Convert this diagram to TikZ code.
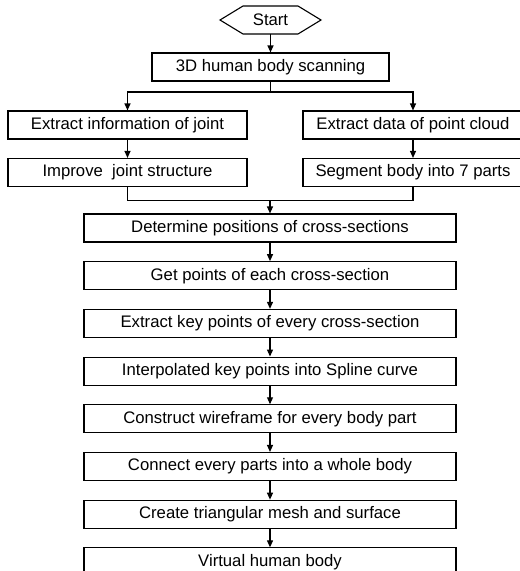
\documentclass[tikz,border=0pt]{standalone}
\usepackage{fontspec}
\setmainfont{Liberation Sans}
\usetikzlibrary{arrows.meta}

\def\boxHeight{28pt}
\def\scanWidth{237pt}
\def\jointWidth{239pt}
\def\cloudWidth{220pt}
\def\mainWidth{372pt}
\def\mainPitch{47.7}

\tikzset{
    stepbox/.style = {draw, line width = 1.1pt, minimum height = \boxHeight,
        inner sep = 0pt, font = \fontsize{16.7}{20}\selectfont},
    flow/.style = {line width = 1.1pt, -{Triangle[length = 7pt, width = 6pt]}},
}

\begin{document}
\begin{tikzpicture}[x = 1pt, y = -1pt]
            \useasboundingbox (0,0) rectangle (520,571);
            \clip (0,0) rectangle (520,571);
            % start terminal
            \draw [line width = 1.1pt]
            (220,20) -- (243,6) -- (298,6) -- (321,20)
            -- (298,34) -- (243,34) -- cycle
            ;
            \node [minimum height = \boxHeight, inner sep = 0pt,
                font = \fontsize{16.7}{20}\selectfont] (start) at (270.5,20) {Start};
            \node [stepbox, minimum width = \scanWidth] (scan) at (270.5,67) {3D human body scanning};
            % two branches
            \node [stepbox, minimum width = \jointWidth] (joint) at (127.5,125) {Extract information of joint};
            \node [stepbox, minimum width = \jointWidth] (improve) at (127.5,172.5) {Improve\ \ joint structure};
            \node [stepbox, minimum width = \cloudWidth] (cloud) at (413,125) {Extract data of point cloud};
            \node [stepbox, minimum width = \cloudWidth] (segment) at (413,172.5) {Segment body into 7 parts};
            \coordinate (split) at (270.5,92);
            \coordinate (merge) at (270,200.5);
            % main column
            \foreach \stepText [count = \i] in {
                Determine positions of cross-sections,
                Get points of each cross-section,
                Extract key points of every cross-section,
                Interpolated key points into Spline curve,
                Construct wireframe for every body part,
                Connect every parts into a whole body,
                Create triangular mesh and surface,
                Virtual human body}
            {
                \node [stepbox, minimum width = \mainWidth] (main\i)
                at (270,{228+(\i-1)*\mainPitch}) {\stepText};
            }
            % connectors
            \draw [flow] (start.south) -- (scan.north);
            \draw [line width = 1.1pt] (scan.south) -- (split);
            \draw [flow] (split) -| (joint.north);
            \draw [flow] (split) -| (cloud.north);
            \draw [flow] (joint.south) -- (improve.north);
            \draw [flow] (cloud.south) -- (segment.north);
            \draw [line width = 1.1pt] (improve.south) |- (merge) -| (segment.south);
            \draw [flow] (merge) -- (main1.north);
            \foreach \i in {1,...,7}
            {
                \pgfmathtruncatemacro{\j}{\i+1}
                \draw [flow] (main\i.south) -- (main\j.north);
            }
        \end{tikzpicture}
\end{document}
